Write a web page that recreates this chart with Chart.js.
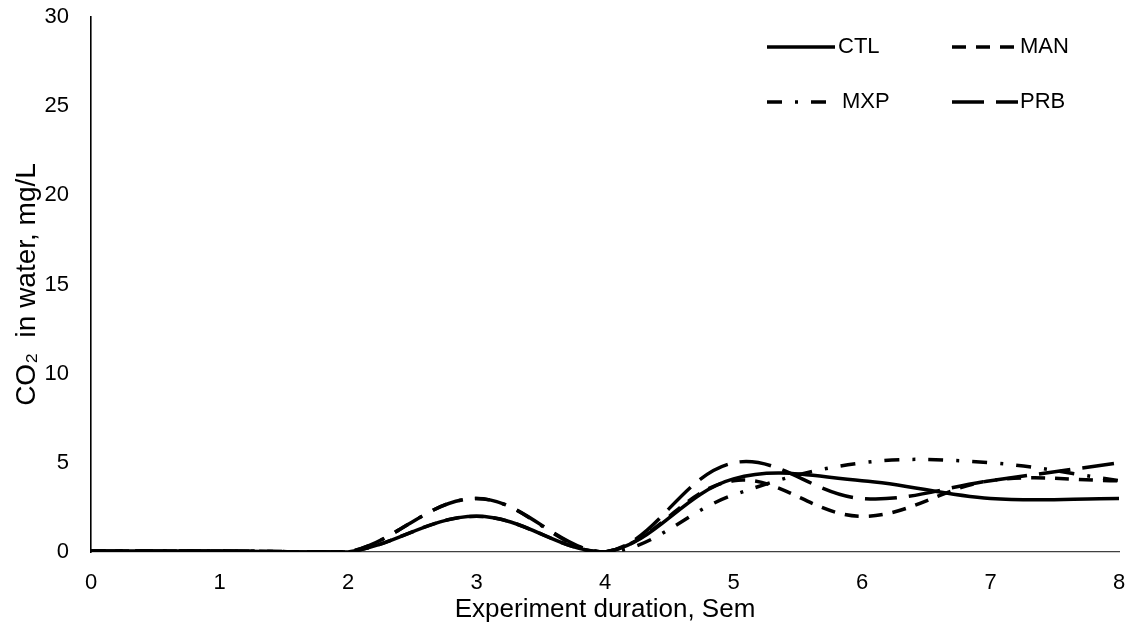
<!DOCTYPE html>
<html>
<head>
<meta charset="utf-8">
<script src="https://cdn.jsdelivr.net/npm/chart.js@4.4.1/dist/chart.umd.min.js"></script>
<style>
  html, body { margin: 0; padding: 0; background: #fff; }
  #co2-chart { display: block; }
</style>
</head>
<body>
<canvas id="co2-chart" width="1130" height="637"></canvas>
<script>
// weeks of the experiment
const weeks = [0, 1, 2, 3, 4, 5, 6, 7, 8];

// CO2 in water, mg/L
const ctl = [0.05, 0.05, 0, 2, 0, 4.1, 4, 3, 3];
const man = [0.05, 0.05, 0, 2, 0, 4, 2, 4, 4];
const mxp = [0.05, 0.05, 0, 3, 0, 3.2, 5, 5, 4];
const prb = [0.05, 0.05, 0, 3, 0, 5, 3, 4, 5];

const seriesNames = ["CTL", "MAN", "MXP", "PRB"];
const yTicks = [0, 5, 10, 15, 20, 25, 30];

const fontFamily = "'Liberation Sans', Arial, sans-serif";

let toPoints = (vals) => vals.map((v, i) => ({ x: weeks[i], y: v }));

let makeSet = (label, vals, dash) => ({
  label,
  data: toPoints(vals),
  borderColor: "#000",
  borderWidth: 3.5,
  borderDash: dash,
  borderCapStyle: "butt",
  pointRadius: 0,
  fill: false,
  tension: 0.37,
});

// 2x2 legend in the upper right of the plot
const cornerLegend = {
  id: "cornerLegend",
  afterDraw(chart) {
    let ctx = chart.ctx;
    let spots = [
      { x: 767, y: 47, len: 68, tx: 838 },
      { x: 952, y: 47, len: 66, tx: 1020 },
      { x: 767, y: 102, len: 63, tx: 842 },
      { x: 952, y: 102, len: 66, tx: 1020 },
    ];
    chart.data.datasets.forEach((ds, i) => {
      let s = spots[i];
      ctx.save();
      ctx.strokeStyle = "#000";
      ctx.lineWidth = 3.5;
      ctx.lineCap = "butt";
      ctx.setLineDash(ds.borderDash || []);
      ctx.beginPath();
      ctx.moveTo(s.x, s.y);
      ctx.lineTo(s.x + s.len, s.y);
      ctx.stroke();
      ctx.setLineDash([]);
      ctx.fillStyle = "#000";
      ctx.font = "22px " + fontFamily;
      ctx.textBaseline = "middle";
      ctx.textAlign = "left";
      ctx.fillText(ds.label, s.tx, s.y);
      ctx.restore();
    });
  },
};

const config = {
  type: "line",
  data: {
    datasets: [
      makeSet(seriesNames[0], ctl, []),
      makeSet(seriesNames[1], man, [14, 10]),
      makeSet(seriesNames[2], mxp, [15, 13, 3, 13]),
      makeSet(seriesNames[3], prb, [32, 12]),
    ],
  },
  options: {
    responsive: false,
    animation: false,
    layout: { padding: { top: 17, right: 11, bottom: 0, left: 0 } },
    plugins: {
      legend: { display: false },
      tooltip: { enabled: false },
    },
    scales: {
      x: {
        type: "linear",
        min: 0,
        max: 8,
        ticks: {
          stepSize: 1,
          color: "#000",
          padding: 18,
          font: { family: fontFamily, size: 22 },
        },
        grid: { display: false, drawTicks: false },
        border: { display: true, color: "#404040", width: 1.2 },
        title: {
          display: true,
          text: "Experiment duration, Sem",
          color: "#000",
          font: { family: fontFamily, size: 26 },
          padding: { top: 0, bottom: 12 },
        },
        afterFit: (scale) => {
          scale.height = 85;
          scale.paddingLeft = 0;
          scale.paddingRight = 0;
        },
      },
      y: {
        min: 0,
        max: 30,
        afterBuildTicks: (scale) => {
          scale.ticks = yTicks.map((v) => ({ value: v }));
        },
        ticks: {
          color: "#000",
          padding: 22,
          font: { family: fontFamily, size: 22 },
        },
        grid: { display: false, drawTicks: false },
        border: { display: true, color: "#000", width: 1.6 },
        title: {
          display: true,
          text: "CO\u2082  in water, mg/L",
          color: "#000",
          font: { family: fontFamily, size: 28 },
          padding: { top: 10, bottom: 0 },
        },
        afterFit: (scale) => {
          scale.width = 91;
          scale.paddingTop = 0;
          scale.paddingBottom = 0;
        },
      },
    },
  },
  plugins: [cornerLegend],
};

let chartCon = document.querySelector("#co2-chart");
let chart = new Chart(chartCon, config);
</script>
</body>
</html>
